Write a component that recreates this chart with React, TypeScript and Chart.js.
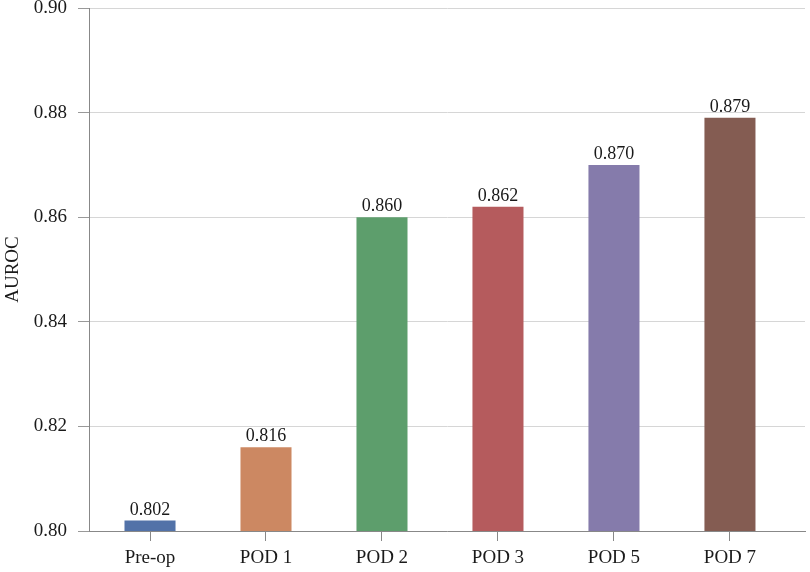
import React, { useEffect, useRef } from "react";
import { Chart, registerables, Plugin } from "chart.js";

Chart.register(...registerables);

const categories = ["Pre-op", "POD 1", "POD 2", "POD 3", "POD 5", "POD 7"];
const aurocValues = [0.802, 0.816, 0.86, 0.862, 0.87, 0.879];
const barColors = ["#5272A8", "#CC8862", "#5D9E6C", "#B55B5D", "#857BAB", "#845C52"];
const yTicks = [0.8, 0.82, 0.84, 0.86, 0.88, 0.9];

const FONT = "'Liberation Serif', 'Times New Roman', serif";

// writes the value above each bar
const barLabelPlugin: Plugin<"bar"> = {
  id: "barLabelPlugin",
  afterDatasetsDraw(chart) {
    const { ctx } = chart;
    const meta = chart.getDatasetMeta(0);
    ctx.save();
    ctx.font = `18px ${FONT}`;
    ctx.fillStyle = "#1a1a1a";
    ctx.textAlign = "center";
    ctx.textBaseline = "alphabetic";
    meta.data.forEach((bar, i) => {
      ctx.fillText(aurocValues[i].toFixed(3), bar.x, bar.y - 6);
    });
    ctx.restore();
  },
};

const App: React.FC = () => {
  const canvasRef = useRef<HTMLCanvasElement | null>(null);

  useEffect(() => {
    document.body.style.margin = "0";
    const ctx = canvasRef.current?.getContext("2d");
    if (!ctx) return;

    const chart = new Chart(ctx, {
      type: "bar",
      data: {
        datasets: [
          {
            data: aurocValues.map((v, i) => ({ x: i, y: v })),
            backgroundColor: barColors,
            borderWidth: 0,
            categoryPercentage: 1,
            barPercentage: 0.44,
          },
        ],
      },
      options: {
        animation: false,
        responsive: true,
        maintainAspectRatio: false,
        layout: { padding: { top: 8, right: 5, left: 0, bottom: 0 } },
        plugins: {
          legend: { display: false },
          tooltip: { enabled: false },
        },
        scales: {
          x: {
            type: "linear",
            offset: false,
            min: -0.526,
            max: 5.647,
            afterBuildTicks(scale) {
              scale.ticks = categories.map((_, i) => ({ value: i }));
            },
            afterFit(scale) {
              scale.height = 41;
              scale.paddingLeft = 0;
              scale.paddingRight = 0;
            },
            ticks: {
              autoSkip: false,
              maxRotation: 0,
              padding: 6,
              color: "#1a1a1a",
              font: { family: FONT, size: 19 },
              callback: (v) => categories[Math.round(Number(v))],
            },
            grid: {
              offset: false,
              drawOnChartArea: false,
              drawTicks: true,
              tickLength: 10,
              tickColor: "#888",
            },
            border: { color: "#888", width: 1 },
          },
          y: {
            min: 0.8,
            max: 0.9,
            afterBuildTicks(scale) {
              scale.ticks = yTicks.map((v) => ({ value: v }));
            },
            afterFit(scale) {
              scale.width = 89;
              scale.paddingTop = 0;
              scale.paddingBottom = 0;
            },
            ticks: {
              padding: 11,
              color: "#1a1a1a",
              font: { family: FONT, size: 19 },
              callback: (v) => Number(v).toFixed(2),
            },
            grid: {
              color: "#d6d6d6",
              lineWidth: 1,
              tickLength: 11,
              tickColor: "#999",
            },
            border: { color: "#888", width: 1 },
            title: {
              display: true,
              text: "AUROC",
              color: "#1a1a1a",
              font: { family: FONT, size: 19 },
              padding: { top: 2, bottom: 0 },
            },
          },
        },
      },
      plugins: [barLabelPlugin],
    });

    return () => {
      chart.destroy();
    };
  }, []);

  return (
    <div style={{ width: "810px", height: "572px", background: "#fff" }}>
      <canvas ref={canvasRef} />
    </div>
  );
};

export default App;
